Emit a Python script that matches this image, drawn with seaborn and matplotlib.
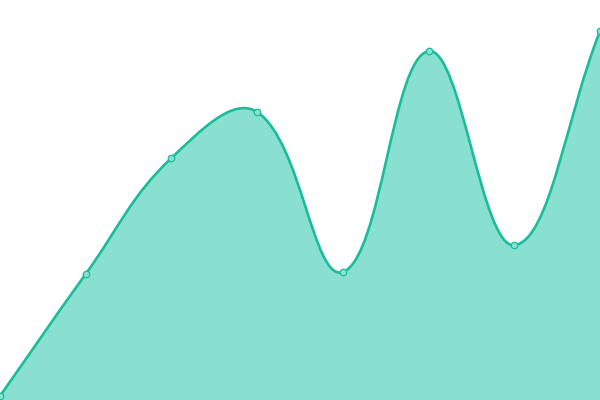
import numpy as np
import matplotlib
matplotlib.use('Agg')
import matplotlib.pyplot as plt
from matplotlib.path import Path
from matplotlib.patches import PathPatch
import seaborn as sns

# data
steps = [0, 1, 2, 3, 4, 5, 6, 7]
values = [1, 31.5, 60.5, 72, 32, 87.2, 38.7, 92.2]

LINE_COLOR = '#1abc9c'
FILL_COLOR = '#8ae0d0'
TENSION = 0.4

sns.set_style('white')

fig = plt.figure(figsize=(6, 4), dpi=100)
ax = fig.add_axes([0, 0, 1, 1])
ax.set_xlim(0, 7)
ax.set_ylim(0, 100)
ax.axis('off')

# spline control points in display space (chart.js style)
pts = ax.transData.transform(np.column_stack([steps, values]))
n = len(pts)
cp_prev = np.zeros_like(pts)
cp_next = np.zeros_like(pts)
for i in range(n):
  prev = pts[i - 1] if i > 0 else pts[i]
  cur = pts[i]
  nxt = pts[i + 1] if i < n - 1 else pts[i]
  d01 = np.hypot(*(cur - prev))
  d12 = np.hypot(*(nxt - cur))
  tot = d01 + d12
  s01 = d01 / tot if tot else 0
  s12 = d12 / tot if tot else 0
  cp_prev[i] = cur - TENSION * s01 * (nxt - prev)
  cp_next[i] = cur + TENSION * s12 * (nxt - prev)

inv = ax.transData.inverted()
pts_d = inv.transform(pts)
cpp_d = inv.transform(cp_prev)
cpn_d = inv.transform(cp_next)

verts = [pts_d[0]]
codes = [Path.MOVETO]
for i in range(n - 1):
  verts += [cpn_d[i], cpp_d[i + 1], pts_d[i + 1]]
  codes += [Path.CURVE4] * 3

area_verts = verts + [(steps[-1], 0), (steps[0], 0), pts_d[0]]
area_codes = codes + [Path.LINETO, Path.LINETO, Path.CLOSEPOLY]

ax.add_patch(PathPatch(Path(area_verts, area_codes), facecolor=FILL_COLOR, edgecolor='none', zorder=1))
ax.add_patch(PathPatch(Path(verts, codes), facecolor='none', edgecolor=LINE_COLOR, lw=1.9, zorder=2))

sns.scatterplot(x=steps, y=values, ax=ax, s=22, color=FILL_COLOR, edgecolor=LINE_COLOR, linewidth=0.9, zorder=3)

fig.savefig('out.png', dpi=100)
